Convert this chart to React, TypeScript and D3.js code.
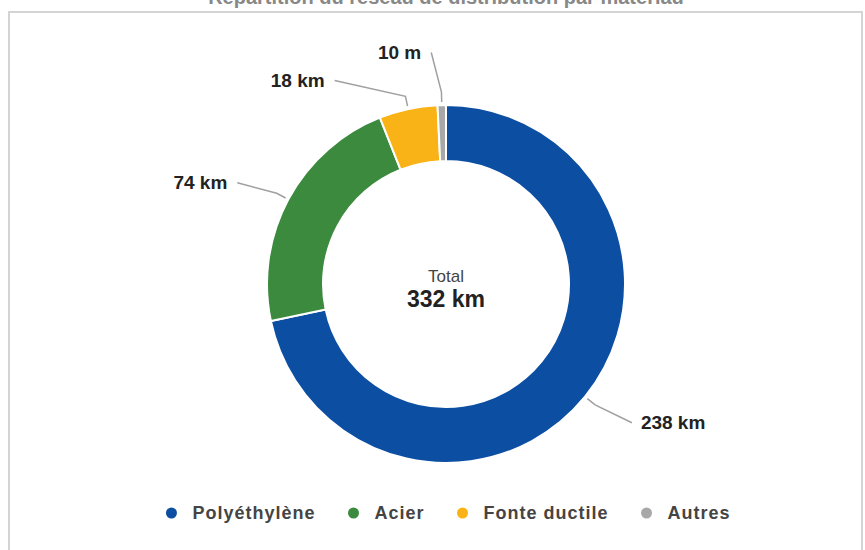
import React from "react";
import * as d3 from "d3";

const categories = ["Polyéthylène", "Acier", "Fonte ductile", "Autres"];
const values = [238, 74, 17.5, 2.5];
const valueLabels = ["238 km", "74 km", "18 km", "10 m"];
const colors = ["#0b4ea2", "#3b8a3e", "#f9b316", "#a8a8a8"];
const totalLabel = "Total";
const totalValue = "332 km";
const title = "Répartition du réseau de distribution par matériau";

const W = 865;
const H = 550;
const CX = 446;
const CY = 284;
const R_OUT = 179;
const R_IN = 123;
const FONT = "'Liberation Sans', Arial, sans-serif";

function measure(text: string, font: string, spacing: number) {
  if (typeof document === "undefined") return text.length * 10;
  const c = document.createElement("canvas").getContext("2d");
  if (!c) return text.length * 10;
  c.font = font;
  return c.measureText(text).width + spacing * text.length;
}

export default function App() {
  const data = categories.map((c, i) => ({ name: c, value: values[i], label: valueLabels[i], color: colors[i] }));
  const pie = d3.pie<any>().value((d) => d.value).sort(null);
  const arcs = pie(data);
  const arc = d3.arc<any>().innerRadius(R_IN).outerRadius(R_OUT);

  const polar = (a: number, r: number): [number, number] => [CX + r * Math.sin(a), CY - r * Math.cos(a)];

  // label layout
  const LABEL_R = 232;
  const SHIFT = -0.04;
  const laid = arcs.map((a) => {
    const mid = (a.startAngle + a.endAngle) / 2;
    const start = polar(mid, R_OUT + 3);
    const elbow = polar(mid, R_OUT + 13);
    let end = polar(mid + SHIFT, LABEL_R);
    return { a, mid, start, elbow, end, left: end[0] < CX };
  });
  const left = laid.filter((l) => l.left).sort((p, q) => p.end[1] - q.end[1]);
  for (let i = 1; i < left.length; i++) {
    const prev = left[i - 1];
    const cur = left[i];
    if (cur.end[1] - prev.end[1] < 28) {
      const y = prev.end[1] + 28;
      const dy = y - CY;
      const dx = -Math.sqrt(Math.max(0, LABEL_R * LABEL_R - dy * dy));
      cur.end = [CX + dx, y];
    }
  }

  const legendFont = `bold 18px ${FONT}`;
  const spacing = 1;
  const items = data.map((d) => ({ ...d, w: measure(d.name, legendFont, spacing) }));
  const dotToText = 21;
  const gap = 38;
  const totalW = items.reduce((s, it) => s + dotToText + it.w, 0) + gap * (items.length - 1);
  let lx = CX - totalW / 2 + 5;
  const legendPos = items.map((it) => {
    const x = lx;
    lx += dotToText + it.w + gap;
    return x;
  });
  const LY = 513;

  return (
    <svg width={W} height={H} style={{ position: "absolute", left: 0, top: 0, display: "block", background: "#fff" }}>
      <text x={CX} y={4} textAnchor="middle" fontFamily={FONT} fontSize={20} fontWeight="bold" fill="#888">
        {title}
      </text>
      <rect x={9} y={12} width={853} height={560} fill="#fff" stroke="#d4d4d4" strokeWidth={2} />
      <g>
        {arcs.map((a, i) => (
          <path key={i} d={arc(a) as string} transform={`translate(${CX},${CY})`} fill={a.data.color} stroke="#fff" strokeWidth={2} />
        ))}
      </g>
      <g>
        {laid.map((l, i) => (
          <g key={i}>
            <polyline
              points={[l.start, l.elbow, l.end].map((p) => p.join(",")).join(" ")}
              fill="none"
              stroke="#a0a0a0"
              strokeWidth={1.5}
            />
            <text
              x={l.left ? l.end[0] - 10 : l.end[0] + 9}
              y={l.end[1]}
              dy="0.35em"
              textAnchor={l.left ? "end" : "start"}
              fontFamily={FONT}
              fontSize={19}
              fontWeight="bold"
              fill="#222"
            >
              {l.a.data.label}
            </text>
          </g>
        ))}
      </g>
      <text x={CX} y={282} textAnchor="middle" fontFamily={FONT} fontSize={17} fill="#444">
        {totalLabel}
      </text>
      <text x={CX} y={307} textAnchor="middle" fontFamily={FONT} fontSize={23} fontWeight="bold" fill="#222">
        {totalValue}
      </text>
      <g>
        {items.map((it, i) => (
          <g key={i}>
            <circle cx={legendPos[i]} cy={LY} r={5.5} fill={it.color} />
            <text
              x={legendPos[i] + dotToText}
              y={LY}
              dy="0.35em"
              fontFamily={FONT}
              fontSize={18}
              fontWeight="bold"
              letterSpacing={spacing}
              fill="#444"
            >
              {it.name}
            </text>
          </g>
        ))}
      </g>
    </svg>
  );
}
